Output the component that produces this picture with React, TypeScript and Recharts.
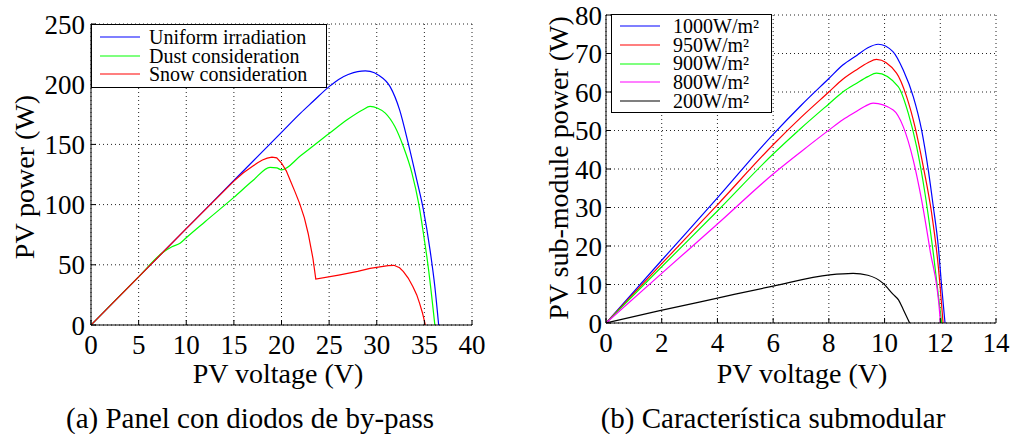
import { LineChart, Line, XAxis, YAxis, CartesianGrid, Legend } from "recharts";

// (a) panel with by-pass diodes
const panelTicksX = [0, 5, 10, 15, 20, 25, 30, 35, 40];
const panelTicksY = [0, 50, 100, 150, 200, 250];

const uniformV = [0, 5, 10, 15, 20, 22, 23.3, 25, 26, 27, 28, 28.8, 29.3, 30.2, 31.4, 32.4, 33.3, 34.2, 34.9, 35.6, 36.1, 36.5];
const uniformP = [0, 40, 80, 120, 160, 176, 185.6, 198, 204, 208, 210.5, 211, 210.6, 207.5, 198, 178.7, 151, 120.5, 95.6, 62, 31.8, 0];

const dustV = [0, 5, 7.5, 8.5, 9.35, 10, 12, 15, 17, 18.8, 19.5, 20, 22, 25, 27, 28.5, 29.3, 30.1, 30.9, 31.9, 32.8, 33.7, 34.4, 34.9, 35.4, 36.1];
const dustP = [0, 40, 60, 65, 67.9, 72.5, 86, 106, 120, 131, 130.5, 128.8, 140.5, 159, 171, 178.5, 181.5, 180, 176, 164.8, 148, 126, 101, 76, 48.5, 0];

const snowV = [0, 5, 10, 15, 16, 17, 17.5, 18, 18.5, 19, 19.5, 20, 20.5, 20.9, 21.4, 21.9, 22.4, 22.8, 23.3, 23.6, 26, 28, 29.3, 30.5, 31.2, 31.8, 32.4, 32.8, 33.3, 33.8, 34.2, 34.5, 34.8, 35.1];
const snowP = [0, 40, 80, 119.5, 126.5, 132, 134.8, 137, 138.6, 139.4, 138.8, 134.5, 128, 120.5, 111, 101, 89, 76, 55.4, 38.2, 41.5, 44.5, 47, 48.5, 49.3, 49.6, 47.5, 44.3, 39, 31.8, 25, 18, 10, 0];

// (b) sub-module characteristic
const subTicksX = [0, 2, 4, 6, 8, 10, 12, 14];
const subTicksY = [0, 10, 20, 30, 40, 50, 60, 70, 80];

const g1000V = [0, 2, 4, 6, 7, 8, 8.5, 9, 9.4, 9.77, 10.3, 10.67, 11.03, 11.33, 11.57, 11.75, 11.93, 12.05, 12.17];
const g1000P = [0, 16.3, 32.5, 49, 56.5, 63.5, 67, 69.5, 71.5, 72.4, 70.5, 65.7, 58.8, 50.1, 39.7, 30.2, 19.8, 9.4, 0];

const g950V = [0, 2, 4, 6, 7, 8, 8.5, 9, 9.4, 9.71, 10.43, 10.79, 11.09, 11.39, 11.69, 11.93, 12.1];
const g950P = [0, 15.4, 30.7, 46.3, 53.4, 60, 63.3, 65.8, 67.6, 68.5, 64.9, 58.8, 51, 40.6, 28.5, 14.6, 0];

const g900V = [0, 2, 4, 6, 7, 8, 8.5, 9, 9.4, 9.71, 10.49, 10.85, 11.15, 11.45, 11.75, 12.05];
const g900P = [0, 14.6, 29.1, 43.9, 50.6, 56.9, 60, 62.3, 64, 64.9, 61.4, 54.5, 45.8, 33.7, 18.1, 0];

const g800V = [0, 2, 4, 6, 7, 8, 8.5, 9, 9.3, 9.59, 10.31, 10.67, 11.03, 11.33, 11.63, 11.99, 12.0];
const g800P = [0, 12.9, 25.7, 38.7, 44.5, 50.1, 52.8, 55, 56.3, 57.1, 55.3, 51, 42.3, 31.9, 19, 1.6, 0];

const g200V = [0, 1.93, 3.96, 6, 8.03, 8.87, 9.4, 9.95, 10.3, 10.5, 10.67, 10.9];
const g200P = [0, 3.2, 6.4, 9.6, 12.5, 12.9, 12.4, 10.3, 7.5, 6, 3.5, 0];

const zip = (v: number[], p: number[]) => v.map((x, i) => ({ v: x, p: p[i] }));

type Series = { name: string; color: string; curve: "monotone" | "linear"; data: { v: number; p: number }[] };

const panelSeries: Series[] = [
  { name: "Uniform irradiation", color: "#0000ff", curve: "monotone", data: zip(uniformV, uniformP) },
  { name: "Dust consideration", color: "#00ff00", curve: "monotone", data: zip(dustV, dustP) },
  { name: "Snow consideration", color: "#ff0000", curve: "linear", data: zip(snowV, snowP) },
];

const subSeries: Series[] = [
  { name: "1000W/m²", color: "#0000ff", curve: "monotone", data: zip(g1000V, g1000P) },
  { name: "950W/m²", color: "#ff0000", curve: "monotone", data: zip(g950V, g950P) },
  { name: "900W/m²", color: "#00ff00", curve: "monotone", data: zip(g900V, g900P) },
  { name: "800W/m²", color: "#ff00ff", curve: "monotone", data: zip(g800V, g800P) },
  { name: "200W/m²", color: "#000000", curve: "monotone", data: zip(g200V, g200P) },
];

const FONT = "'Liberation Serif', 'Times New Roman', serif";
const tickStyle = { fontSize: 27, fill: "#000", fontFamily: FONT };

function LegendBox({ series, width, textLeft, rowH, pad }: { series: Series[]; width: number; textLeft: number; rowH: number; pad: number }) {
  return (
    <div style={{ border: "1px solid #000", background: "#fff", width, padding: `${pad}px 0`, fontFamily: FONT, fontSize: 20 }}>
      {series.map((s) => (
        <div key={s.name} style={{ display: "flex", alignItems: "center", height: rowH }}>
          <svg width={48} height={4} style={{ display: "block" }}>
            <line x1={8} x2={48} y1={2} y2={2} stroke={s.color} strokeWidth={1.2} />
          </svg>
          <span style={{ marginLeft: textLeft, lineHeight: `${rowH}px`, whiteSpace: "nowrap" }}>{s.name}</span>
        </div>
      ))}
    </div>
  );
}

function Title({ x, y, text, size, rotate }: { x: number; y: number; text: string; size: number; rotate?: boolean }) {
  return (
    <div
      style={{
        position: "absolute",
        left: x,
        top: y,
        transform: `translate(-50%, -50%)${rotate ? " rotate(-90deg)" : ""}`,
        fontFamily: FONT,
        fontSize: size,
        lineHeight: 1,
        whiteSpace: "nowrap",
        color: "#000",
      }}
    >
      {text}
    </div>
  );
}

export default function App() {
  return (
    <div style={{ position: "absolute", left: 0, top: 0, width: 1013, height: 434, background: "#fff", overflow: "hidden" }}>
      <div style={{ position: "absolute", left: 0, top: 0 }}>
        <LineChart width={500} height={434} margin={{ top: 24, right: 28, bottom: 79, left: 31 }}>
          <CartesianGrid stroke="#222" strokeDasharray="1 3" />
          <XAxis
            type="number"
            dataKey="v"
            domain={[0, 40]}
            ticks={panelTicksX}
            allowDataOverflow
            height={30}
            tick={tickStyle}
            tickSize={-5}
            tickMargin={15}
            stroke="#000"
          />
          <YAxis
            type="number"
            dataKey="p"
            domain={[0, 250]}
            ticks={panelTicksY}
            allowDataOverflow
            width={60}
            tick={tickStyle}
            tickSize={-5}
            tickMargin={11}
            stroke="#000"
          />
          <Legend
            layout="vertical"
            align="center"
            verticalAlign="middle"
            wrapperStyle={{ left: 91, top: 24, width: "auto", height: "auto" }}
            content={() => <LegendBox series={panelSeries} width={234} textLeft={9} rowH={18.6} pad={3} />}
          />
          {panelSeries.map((s) => (
            <Line key={s.name} data={s.data} dataKey="p" name={s.name} type={s.curve} stroke={s.color} strokeWidth={1.2} dot={false} isAnimationActive={false} />
          ))}
        </LineChart>
      </div>

      <div style={{ position: "absolute", left: 520, top: 0 }}>
        <LineChart width={493} height={434} margin={{ top: 15, right: 17, bottom: 81, left: 26 }}>
          <CartesianGrid stroke="#222" strokeDasharray="1 3" />
          <XAxis
            type="number"
            dataKey="v"
            domain={[0, 14]}
            ticks={subTicksX}
            allowDataOverflow
            height={30}
            tick={tickStyle}
            tickSize={-5}
            tickMargin={15}
            stroke="#000"
          />
          <YAxis
            type="number"
            dataKey="p"
            domain={[0, 80]}
            ticks={subTicksY}
            allowDataOverflow
            width={60}
            tick={tickStyle}
            tickSize={-5}
            tickMargin={9}
            stroke="#000"
          />
          <Legend
            layout="vertical"
            align="center"
            verticalAlign="middle"
            wrapperStyle={{ left: 91, top: 14, width: "auto", height: "auto" }}
            content={() => <LegendBox series={subSeries} width={159} textLeft={13} rowH={18.7} pad={2} />}
          />
          {subSeries.map((s) => (
            <Line key={s.name} data={s.data} dataKey="p" name={s.name} type={s.curve} stroke={s.color} strokeWidth={1.2} dot={false} isAnimationActive={false} />
          ))}
        </LineChart>
      </div>

      <Title x={25} y={177} text="PV power (W)" size={28} rotate />
      <Title x={278} y={374} text="PV voltage (V)" size={28} />
      <Title x={250} y={418} text="(a) Panel con diodos de by-pass" size={29} />

      <Title x={559} y={168} text="PV sub-module power (W)" size={28} rotate />
      <Title x={802} y={374} text="PV voltage (V)" size={28} />
      <Title x={773} y={418} text="(b) Característica submodular" size={29} />
    </div>
  );
}
